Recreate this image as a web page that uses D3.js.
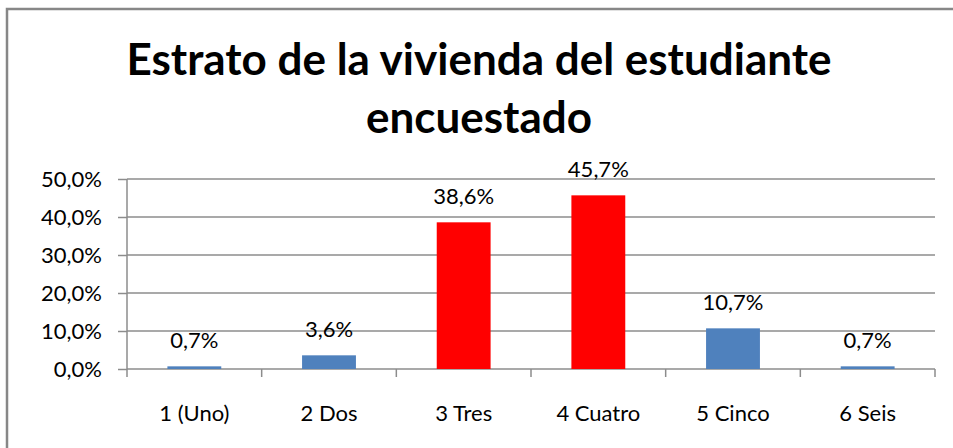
<!DOCTYPE html>
<html>
<head>
<meta charset="utf-8">
<script src="https://cdn.jsdelivr.net/npm/d3@7"></script>
<style>
  body { margin: 0; background: #fff; }
  text { font-family: Lato, "Open Sans", sans-serif; fill: #000; }
</style>
</head>
<body>
<div id="chart"></div>
<script>
// Chart data
const categories = ["1 (Uno)", "2 Dos", "3 Tres", "4 Cuatro", "5 Cinco", "6 Seis"];
const values = [0.7, 3.6, 38.6, 45.7, 10.7, 0.7];
const barColors = ["#4F81BD", "#4F81BD", "#FF0000", "#FF0000", "#4F81BD", "#4F81BD"];
const yTicks = [0, 10, 20, 30, 40, 50];
const titleLines = ["Estrato de la vivienda del estudiante", "encuestado"];

const W = 953, H = 448;
const margin = {top: 179, right: 18, bottom: 79, left: 127};
const labelSize = "22px";

const svg = d3.select("#chart").append("svg")
    .attr("width", W)
    .attr("height", H);

// outer frame (right and bottom edges fall outside the picture)
svg.append("rect")
    .attr("x", 7).attr("y", 9)
    .attr("width", W + 10).attr("height", H + 10)
    .attr("fill", "none")
    .attr("stroke", "#878787")
    .attr("stroke-width", 2.5);

// Title
svg.append("text")
    .attr("text-anchor", "middle")
    .style("font-size", "44px")
    .style("font-weight", "bold")
    .selectAll("tspan")
    .data(titleLines)
    .join("tspan")
        .attr("x", 479)
        .attr("y", (d, i) => 75 + i * 58)
        .text(d => d);

const x = d3.scaleBand()
    .domain(categories)
    .range([margin.left, W - margin.right])
    .paddingInner(0.6)
    .paddingOuter(0.3);

const y = d3.scaleLinear()
    .domain([0, 50])
    .range([H - margin.bottom, margin.top]);

const fmt = v => d3.format(".1f")(v).replace(".", ",") + "%";

// Gridlines
svg.append("g")
    .selectAll("line")
    .data(yTicks)
    .join("line")
        .attr("x1", margin.left)
        .attr("x2", W - margin.right)
        .attr("y1", d => y(d))
        .attr("y2", d => y(d))
        .attr("stroke", "#8c8c8c")
        .attr("stroke-width", 1.5);

// Y axis
const yAxis = svg.append("g")
    .attr("transform", "translate(" + margin.left + ",0)")
    .call(d3.axisLeft(y).tickValues(yTicks).tickSize(9).tickPadding(16).tickFormat(fmt));
yAxis.selectAll("line, path").attr("stroke", "#8c8c8c").attr("stroke-width", 1.5);
yAxis.select(".domain").attr("d", "M0," + y(50) + "V" + y(0));
yAxis.selectAll("text").style("font-size", labelSize).attr("font-family", null);

// X axis: ticks at band boundaries
const step = x.step();
const bounds = d3.range(categories.length + 1).map(i => margin.left + i * step);
svg.append("g")
    .selectAll("line")
    .data(bounds)
    .join("line")
        .attr("x1", d => d).attr("x2", d => d)
        .attr("y1", y(0)).attr("y2", y(0) + 8)
        .attr("stroke", "#8c8c8c")
        .attr("stroke-width", 1.5);

svg.append("g")
    .selectAll("text")
    .data(categories)
    .join("text")
        .attr("x", d => x(d) + x.bandwidth() / 2)
        .attr("y", 421)
        .attr("text-anchor", "middle")
        .style("font-size", labelSize)
        .text(d => d);

// Bars
svg.append("g")
    .selectAll("rect")
    .data(values)
    .join("rect")
        .attr("x", (d, i) => x(categories[i]))
        .attr("y", d => y(d))
        .attr("width", x.bandwidth())
        .attr("height", d => y(0) - y(d))
        .attr("fill", (d, i) => barColors[i]);

// Value labels
svg.append("g")
    .selectAll("text")
    .data(values)
    .join("text")
        .attr("x", (d, i) => x(categories[i]) + x.bandwidth() / 2)
        .attr("y", d => y(d) - 18)
        .attr("text-anchor", "middle")
        .style("font-size", labelSize)
        .text(d => fmt(d));
</script>
</body>
</html>
